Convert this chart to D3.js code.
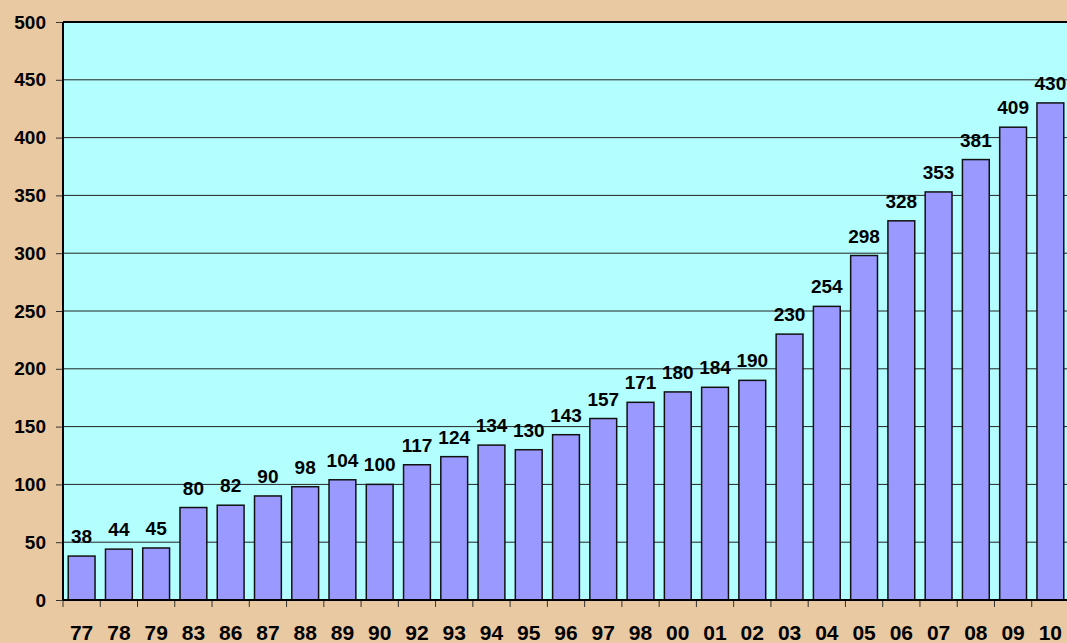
<!DOCTYPE html>
<html><head><meta charset="utf-8">
<script src="https://cdn.jsdelivr.net/npm/d3@7"></script>
<style>html,body{margin:0;padding:0;background:#E9C9A2;overflow:hidden}svg{display:block}</style>
</head><body>
<script>
const categories = ["77","78","79","83","86","87","88","89","90","92","93","94","95","96","97","98","00","01","02","03","04","05","06","07","08","09","10"];
const values = [38,44,45,80,82,90,98,104,100,117,124,134,130,143,157,171,180,184,190,230,254,298,328,353,381,409,430];
const yTicks = [0,50,100,150,200,250,300,350,400,450,500];

const W = 1067, H = 643;
const mLeft = 63, mRight = 1069, mTop = 22, mBottom = 600;
const svg = d3.select("body").append("svg").attr("width", W).attr("height", H);
svg.append("rect").attr("width", W).attr("height", H).attr("fill", "#E9C9A2");

const x = d3.scaleBand().domain(categories).range([mLeft, mRight]).padding(0);
const y = d3.scaleLinear().domain([0, 500]).range([mBottom, mTop]);

svg.append("rect").attr("x", mLeft).attr("y", mTop).attr("width", mRight - mLeft).attr("height", mBottom - mTop).attr("fill", "#B3FFFF");

// gridlines
svg.append("g").selectAll("line").data(yTicks.filter(d => d > 0)).join("line")
  .attr("x1", mLeft).attr("x2", mRight).attr("y1", d => y(d)).attr("y2", d => y(d))
  .attr("stroke", "#222").attr("stroke-width", 1);

// bars
const bw = x.step() * 0.72, off = x.step() * 0.14;
svg.append("g").selectAll("rect").data(values).join("rect")
  .attr("x", (d, i) => x(categories[i]) + off)
  .attr("y", d => y(d))
  .attr("width", bw)
  .attr("height", d => y(0) - y(d))
  .attr("fill", "#9999FF").attr("stroke", "#111").attr("stroke-width", 1.5);

// value labels
svg.append("g").selectAll("text").data(values).join("text")
  .attr("x", (d, i) => x(categories[i]) + x.step() / 2)
  .attr("y", d => y(d) - 13)
  .attr("text-anchor", "middle")
  .attr("font-family", "Liberation Sans, Arial, sans-serif").attr("font-weight", "bold").attr("font-size", 19)
  .attr("fill", "#000").text(d => d);

// y axis
const yAxis = svg.append("g").attr("transform", `translate(${mLeft},0)`)
  .call(d3.axisLeft(y).tickValues(yTicks).tickSize(7).tickPadding(10));
yAxis.select(".domain").remove();
yAxis.selectAll("line").attr("stroke", "#333");
yAxis.selectAll("text").attr("font-family", "Liberation Sans, Arial, sans-serif").attr("font-weight", "bold").attr("font-size", 19).attr("fill", "#000");

// x axis
const boundaries = d3.range(categories.length + 1).map(i => mLeft + i * x.step());
svg.append("g").selectAll("line").data(boundaries).join("line")
  .attr("x1", d => d).attr("x2", d => d).attr("y1", mBottom).attr("y2", mBottom + 7)
  .attr("stroke", "#333");
svg.append("g").selectAll("text").data(categories).join("text")
  .attr("x", d => x(d) + x.step() / 2)
  .attr("y", 640)
  .attr("text-anchor", "middle")
  .attr("font-family", "Liberation Sans, Arial, sans-serif").attr("font-weight", "bold").attr("font-size", 21)
  .attr("fill", "#000").text(d => d);

// plot border lines
svg.append("line").attr("x1", mLeft).attr("x2", mRight).attr("y1", mTop).attr("y2", mTop).attr("stroke", "#000").attr("stroke-width", 2);
svg.append("line").attr("x1", mLeft).attr("x2", mLeft).attr("y1", mTop).attr("y2", mBottom).attr("stroke", "#000").attr("stroke-width", 2);
svg.append("line").attr("x1", mLeft).attr("x2", mRight).attr("y1", mBottom).attr("y2", mBottom).attr("stroke", "#000").attr("stroke-width", 2);
</script>
</body></html>
